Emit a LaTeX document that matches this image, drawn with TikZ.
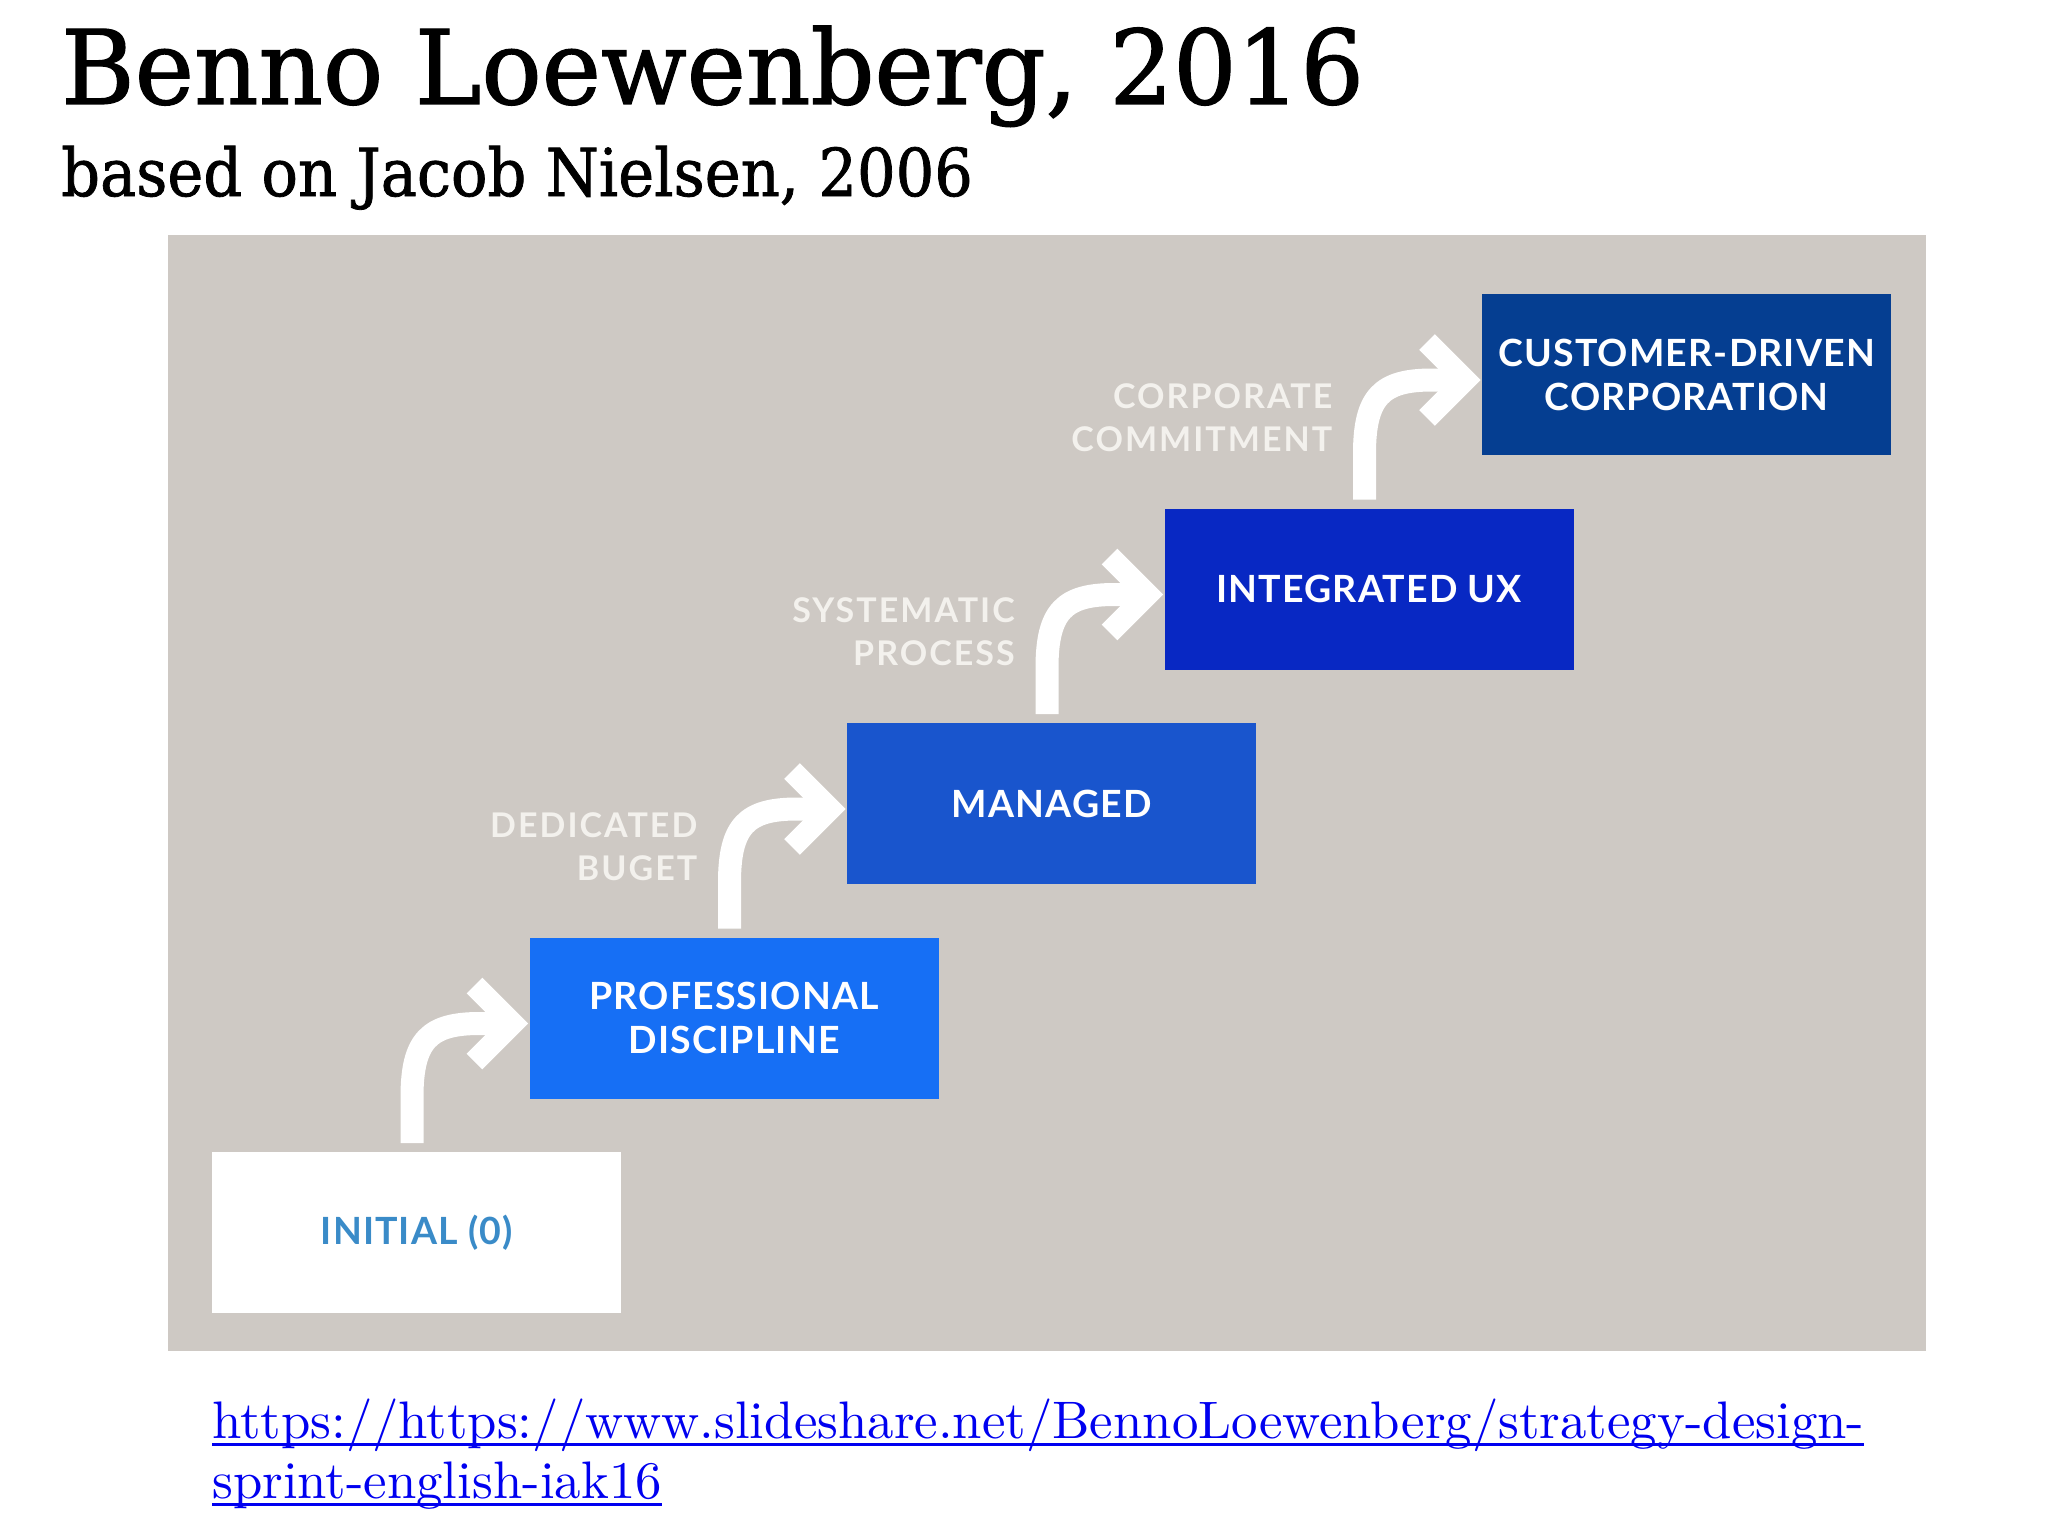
\documentclass[tikz,border=0pt]{standalone}
\usepackage{fontspec}
\usetikzlibrary{calc}
\newfontfamily\titlefont{DejaVu Serif}[FakeBold=1.2]
\newfontfamily\boxfont{Lato}[LetterSpace=3]
\newfontfamily\lblfont{Lato}[LetterSpace=6]
\newfontfamily\linkfont{lmroman10-regular.otf}
\definecolor{panel}{RGB}{206,201,196}
\definecolor{bprof}{RGB}{22,111,245}
\definecolor{bman}{RGB}{25,85,205}
\definecolor{bint}{RGB}{8,40,195}
\definecolor{bcust}{RGB}{5,62,145}
\definecolor{initblue}{RGB}{58,139,200}
\definecolor{lbl}{RGB}{243,241,237}
\definecolor{linkblue}{RGB}{0,0,240}
\newcommand\myul[1]{\setbox0\hbox{#1}\rlap{\rule[-8pt]{\wd0}{2.8pt}}\box0}
\tikzset{
  stage/.style={rectangle, inner sep=0pt, minimum width=409pt, minimum height=161pt,
    anchor=north west, align=center, text=white,
    font=\boxfont\bfseries\fontsize{37.5}{44}\selectfont},
  steplabel/.style={inner sep=0pt, anchor=east, align=right, text=lbl,
    font=\lblfont\bfseries\fontsize{34}{43}\selectfont},
  stemline/.style={draw=white, line width=23pt, line cap=butt},
  chevron/.style={draw=white, line width=22pt, line cap=butt, line join=miter},
}
\newcommand\stagearrow[2]{%
  \draw[stemline] ($(#1.north west)+(200,-9)$) -- ($(#1.north west)+(200,-55)$)
    .. controls ($(#1.north west)+(200,-112)$) and ($(#2.north west)+(-100,86)$)
    .. ($(#2.north west)+(-50,86)$) -- ($(#2.north west)+(-24,86)$);
  \draw[chevron] ($(#2.north west)+(-55,48)$) -- ($(#2.north west)+(-17,86)$)
    -- ($(#2.north west)+(-55,124)$);
}
\begin{document}
\begin{tikzpicture}[x=1pt,y=-1pt]
\useasboundingbox[fill=white] (0,0) rectangle (2048,1536);
% title
\node[anchor=base west, inner sep=0pt] (title) at (61,104)
  {\titlefont\fontsize{103}{103}\selectfont\scalebox{0.972}[1]{Benno Loewenberg, 2016}};
\node[anchor=base west, inner sep=0pt] (subtitle) at (61,196)
  {\titlefont\fontsize{66}{66}\selectfont\scalebox{0.92}[1]{based on Jacob Nielsen, 2006}};
% panel
\fill[panel] (168,235) rectangle (1926,1351);
% stages
\node[stage, fill=white, text=initblue] (b0) at (212,1152) {INITIAL (0)};
\node[stage, fill=bprof] (b1) at (529.5,937.5) {PROFESSIONAL\\DISCIPLINE};
\node[stage, fill=bman] (b2) at (847,723) {MANAGED};
\node[stage, fill=bint] (b3) at (1164.5,508.5) {INTEGRATED UX};
\node[stage, fill=bcust] (b4) at (1482,294) {CUSTOMER-DRIVEN\\CORPORATION};
% arrows
\stagearrow{b0}{b1}
\stagearrow{b1}{b2}
\stagearrow{b2}{b3}
\stagearrow{b3}{b4}
% labels
\node[steplabel] (l1) at ($(b1.north west)+(168,-91)$) {DEDICATED\\BUGET};
\node[steplabel] (l2) at ($(b2.north west)+(168,-91)$) {SYSTEMATIC\\PROCESS};
\node[steplabel] (l3) at ($(b3.north west)+(168,-91)$) {CORPORATE\\COMMITMENT};
% link
\node[anchor=base west, inner sep=0pt, align=left, text=linkblue,
  font=\linkfont\fontsize{52.8}{60}\selectfont] (link) at (212,1498)
  {\myul{https://https://www.slideshare.net/BennoLoewenberg/strategy-design-}\\
   \myul{sprint-english-iak16}};
\end{tikzpicture}
\end{document}
